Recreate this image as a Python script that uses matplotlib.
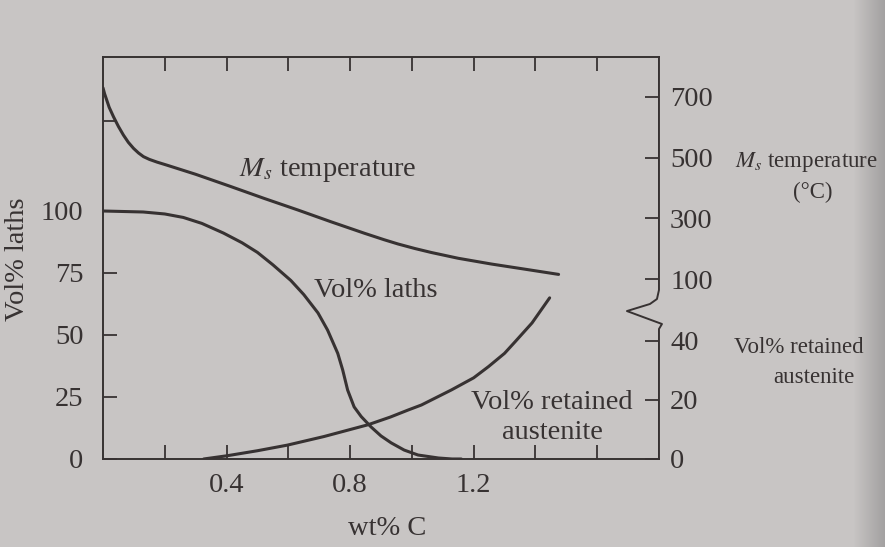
import numpy as np
import matplotlib
matplotlib.use("Agg")
import matplotlib.pyplot as plt

plt.rcParams['font.family'] = ['Liberation Serif', 'DejaVu Serif']
plt.rcParams['mathtext.fontset'] = 'stix'

# --- data ---
# Ms temperature (deg C) vs wt% C
ms_c = [0.0, 0.005, 0.012, 0.02, 0.034, 0.05, 0.066, 0.082, 0.099, 0.115, 0.131,
        0.15, 0.175, 0.207, 0.30, 0.413, 0.521, 0.63, 0.738, 0.847, 0.91, 0.955,
        1.01, 1.063, 1.15, 1.258, 1.367, 1.475]
ms_temp = [729, 710, 689, 665, 634, 602, 574, 550, 530, 515, 503,
           494, 485, 475, 445, 405, 366, 328, 289, 251, 230, 216,
           201, 188, 169, 150, 133, 116]

# Vol% laths vs wt% C
laths_c = [0.0, 0.13, 0.2, 0.26, 0.32, 0.39, 0.45, 0.50, 0.55, 0.608, 0.65, 0.696,
           0.727, 0.76, 0.776, 0.792, 0.813, 0.836, 0.868, 0.90, 0.933, 0.975,
           1.02, 1.086, 1.13, 1.16]
laths_vol = [100, 99.6, 98.8, 97.4, 95.0, 91.1, 87.2, 83.3, 78.3, 72.0, 66.3, 58.9,
             52.0, 42.6, 35.9, 27.8, 21.0, 17.1, 12.9, 9.3, 6.5, 3.6,
             1.6, 0.4, 0.0, 0.0]

# Vol% retained austenite vs wt% C
ra_c = [0.326, 0.402, 0.50, 0.597, 0.715, 0.858, 0.93, 0.988, 1.031, 1.128, 1.20,
        1.248, 1.30, 1.334, 1.389, 1.446]
ra_vol = [0.0, 1.1, 2.8, 4.7, 7.6, 11.6, 14.2, 16.6, 18.3, 23.4, 27.5,
          31.3, 35.8, 39.7, 46.1, 54.6]

x_ticks = [0.2, 0.4, 0.6, 0.8, 1.0, 1.2, 1.4, 1.6]
x_labels = ['', '0.4', '', '0.8', '', '1.2', '', '']
laths_ticks = [0, 25, 50, 75, 100]
ra_ticks = [0, 20, 40]
temp_ticks = [100, 300, 500, 700]


# right axis is broken: two scales drawn in the units of the left axis
def temp_to_left(t):
    return 60.2 + 0.1227 * np.asarray(t, dtype=float)


def ra_to_left(v):
    return 1.19 * np.asarray(v, dtype=float)


ink = '#373232'
paper = '#c8c5c4'

fig = plt.figure(figsize=(8.85, 5.47), dpi=100)
fig.patch.set_facecolor(paper)

# darker page edge at the far right of the photo
bg = fig.add_axes([0, 0, 1, 1], zorder=-5)
edge = np.clip((np.linspace(0, 1, 885) - 0.965) / 0.035, 0, 1)[None, :]
bg.imshow(edge, aspect='auto', cmap=matplotlib.colors.LinearSegmentedColormap.from_list(
    'pg', [paper, '#a3a1a1']), extent=[0, 1, 0, 1], vmin=0, vmax=1)
bg.set_axis_off()

ax = fig.add_axes([0.1164, 0.1609, 0.6282, 0.7349])
ax.patch.set_alpha(0)

lw = 2.2
ax.plot(ms_c, temp_to_left(ms_temp), color=ink, lw=lw, solid_capstyle='round',
        solid_joinstyle='round')
ax.plot(laths_c, laths_vol, color=ink, lw=lw, solid_capstyle='round',
        solid_joinstyle='round')
ax.plot(ra_c, ra_to_left(ra_vol), color=ink, lw=lw, solid_capstyle='round',
        solid_joinstyle='round')

ax.set_xlim(0, 1.8)
ax.set_ylim(0, 162.1)

fs = 20.5
ax.set_xticks(x_ticks)
ax.set_xticklabels(x_labels)
ax.set_yticks(laths_ticks + [float(temp_to_left(620))])
ax.set_yticklabels([str(v) for v in laths_ticks] + [''])
ax.tick_params(axis='both', direction='in', length=10, width=1.3, colors=ink,
               labelsize=fs, labelcolor=ink)
ax.tick_params(axis='x', top=True, pad=10)
ax.tick_params(axis='y', pad=14)

for side in ['left', 'top', 'bottom']:
    ax.spines[side].set_color(ink)
    ax.spines[side].set_linewidth(1.4)
ax.spines['right'].set_visible(False)

ax2 = ax.twinx()
ax2.set_ylim(ax.get_ylim())
r_pos = list(ra_to_left(ra_ticks)) + list(temp_to_left(temp_ticks))
ax2.set_yticks(r_pos)
ax2.set_yticklabels([str(v) for v in ra_ticks] + [str(v) for v in temp_ticks])
ax2.tick_params(axis='y', direction='in', length=10, width=1.3, colors=ink,
                labelsize=fs, labelcolor=ink, pad=8)
for s in ax2.spines.values():
    s.set_visible(False)

# broken right spine with the brace-like break mark
brk_x = [1.0, 1.0, 0.9964, 0.9838, 0.9424, 1.0054, 1.0, 1.0]
brk_y = [1.0, 0.4204, 0.398, 0.3856, 0.368, 0.3358, 0.3234, 0.0]
ax.plot(brk_x, brk_y, transform=ax.transAxes, color=ink, lw=1.4,
        clip_on=False, solid_joinstyle='round')

# curve labels
ax.text(0.439, 114.1, r'$M_s$ temperature', fontsize=fs, color=ink, va='baseline')
ax.text(0.683, 65.2, 'Vol% laths', fontsize=fs, color=ink, va='baseline')
ax.text(1.454, 20.0, 'Vol% retained', fontsize=fs, color=ink, ha='center', va='baseline')
ax.text(1.454, 7.9, 'austenite', fontsize=fs, color=ink, ha='center', va='baseline')

# right-hand axis titles
fs2 = 16.5
ax.text(2.276, 117.9, r'$M_s$ temperature', fontsize=fs2, color=ink, ha='center',
        va='baseline', clip_on=False)
ax.text(2.299, 105.2, '(°C)', fontsize=fs2, color=ink, ha='center', va='baseline',
        clip_on=False)
ax.text(2.254, 42.7, 'Vol% retained', fontsize=fs2, color=ink, ha='center',
        va='baseline', clip_on=False)
ax.text(2.30, 30.6, 'austenite', fontsize=fs2, color=ink, ha='center', va='baseline',
        clip_on=False)

# axis titles
ax.text(-0.153, 0.4975, 'Vol% laths', fontsize=fs, color=ink, rotation=90,
        ha='center', va='center', transform=ax.transAxes)
ax.text(0.511, -0.174, 'wt% C', fontsize=fs, color=ink, ha='center', va='center',
        transform=ax.transAxes)

fig.savefig('out.png', dpi=100, facecolor=fig.get_facecolor())
